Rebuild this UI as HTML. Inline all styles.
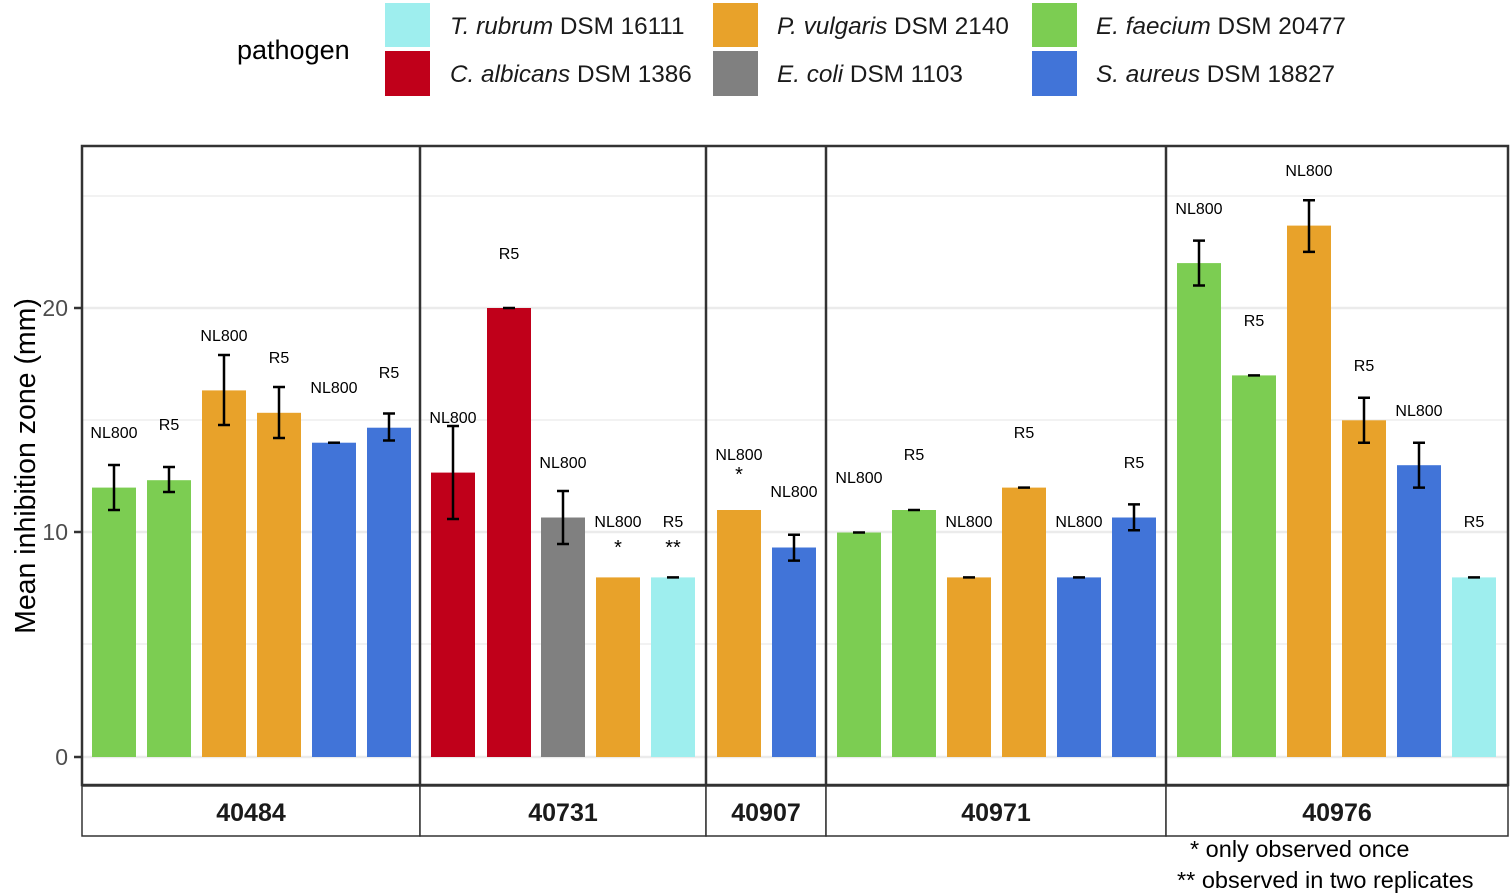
<!DOCTYPE html>
<html><head><meta charset="utf-8"><style>body{margin:0;background:#fff}svg{display:block}text{font-family:"Liberation Sans",Arial,sans-serif}</style></head><body>
<svg width="1510" height="895" viewBox="0 0 1510 895" xmlns="http://www.w3.org/2000/svg">
<text x="237" y="59" font-size="27" fill="#000">pathogen</text>
<rect x="385" y="3" width="45" height="44" fill="#9EEEEE"/><rect x="385" y="51" width="45" height="45" fill="#C0001A"/>
<rect x="713" y="3" width="45" height="44" fill="#E8A22A"/><rect x="713" y="51" width="45" height="45" fill="#808080"/>
<rect x="1032" y="3" width="45" height="44" fill="#7CCD52"/><rect x="1032" y="51" width="45" height="45" fill="#4174D8"/>
<g font-size="24.3" fill="#1a1a1a">
<text x="450" y="34"><tspan font-style="italic">T. rubrum</tspan> DSM 16111</text>
<text x="450" y="82"><tspan font-style="italic">C. albicans</tspan> DSM 1386</text>
<text x="777" y="34"><tspan font-style="italic">P. vulgaris</tspan> DSM 2140</text>
<text x="777" y="82"><tspan font-style="italic">E. coli</tspan> DSM 1103</text>
<text x="1096" y="34"><tspan font-style="italic">E. faecium</tspan> DSM 20477</text>
<text x="1096" y="82"><tspan font-style="italic">S. aureus</tspan> DSM 18827</text>
</g>
<text transform="translate(35,466) rotate(-90)" text-anchor="middle" font-size="28.5" fill="#000">Mean inhibition zone (mm)</text>
<g font-size="23" fill="#4d4d4d" text-anchor="end"><text x="68" y="765">0</text><text x="68" y="540">10</text><text x="68" y="316">20</text></g>
<g stroke="#333" stroke-width="2.5"><line x1="74" y1="757" x2="82" y2="757"/><line x1="74" y1="532" x2="82" y2="532"/><line x1="74" y1="308" x2="82" y2="308"/></g>
<g stroke="#ebebeb"><g stroke-width="1.2"><line x1="82" y1="644" x2="1508" y2="644"/><line x1="82" y1="420" x2="1508" y2="420"/><line x1="82" y1="196" x2="1508" y2="196"/></g>
<g stroke-width="2.4"><line x1="82" y1="757" x2="1508" y2="757"/><line x1="82" y1="532" x2="1508" y2="532"/><line x1="82" y1="308" x2="1508" y2="308"/></g></g>
<g>
<rect x="92" y="487.6" width="44" height="269.4" fill="#7CCD52"/><rect x="147" y="480.2" width="44" height="276.8" fill="#7CCD52"/>
<rect x="202" y="390.4" width="44" height="366.6" fill="#E8A22A"/><rect x="257" y="412.8" width="44" height="344.2" fill="#E8A22A"/>
<rect x="312" y="442.7" width="44" height="314.3" fill="#4174D8"/><rect x="367" y="427.7" width="44" height="329.3" fill="#4174D8"/>
<rect x="431" y="472.6" width="44" height="284.4" fill="#C0001A"/><rect x="487" y="308" width="44" height="449" fill="#C0001A"/>
<rect x="541" y="517.5" width="44" height="239.5" fill="#808080"/><rect x="596" y="577.4" width="44" height="179.6" fill="#E8A22A"/>
<rect x="651" y="577.4" width="44" height="179.6" fill="#9EEEEE"/>
<rect x="717" y="510" width="44" height="247" fill="#E8A22A"/><rect x="772" y="547.5" width="44" height="209.5" fill="#4174D8"/>
<rect x="837" y="532.5" width="44" height="224.5" fill="#7CCD52"/><rect x="892" y="510" width="44" height="247" fill="#7CCD52"/>
<rect x="947" y="577.4" width="44" height="179.6" fill="#E8A22A"/><rect x="1002" y="487.6" width="44" height="269.4" fill="#E8A22A"/>
<rect x="1057" y="577.4" width="44" height="179.6" fill="#4174D8"/><rect x="1112" y="517.5" width="44" height="239.5" fill="#4174D8"/>
<rect x="1177" y="263.1" width="44" height="493.9" fill="#7CCD52"/><rect x="1232" y="375.4" width="44" height="381.6" fill="#7CCD52"/>
<rect x="1287" y="225.6" width="44" height="531.4" fill="#E8A22A"/><rect x="1342" y="420.3" width="44" height="336.7" fill="#E8A22A"/>
<rect x="1397" y="465.2" width="44" height="291.8" fill="#4174D8"/><rect x="1452" y="577.4" width="44" height="179.6" fill="#9EEEEE"/>
</g>
<g stroke="#000" stroke-width="2.5" fill="none">
<path d="M108 465h12M114 465v45M108 510h12"/>
<path d="M163 467h12M169 467v25M163 492h12"/>
<path d="M218 355h12M224 355v70M218 425h12"/>
<path d="M273 387h12M279 387v51M273 438h12"/>
<path d="M328 442.7h12"/>
<path d="M383 413.5h12M389 413.5v27M383 440.5h12"/>
<path d="M447 426h12M453 426v93M447 519h12"/>
<path d="M503 308h12"/>
<path d="M557 491h12M563 491v53M557 544h12"/>
<path d="M667 577.4h12"/>
<path d="M788 534.7h12M794 534.7v26M788 560.6h12"/>
<path d="M853 532.5h12"/><path d="M908 510h12"/><path d="M963 577.4h12"/><path d="M1018 487.6h12"/><path d="M1073 577.4h12"/>
<path d="M1128 504.4h12M1134 504.4v26M1128 530.3h12"/>
<path d="M1193 240.6h12M1199 240.6v45M1193 285.5h12"/>
<path d="M1248 375.4h12"/>
<path d="M1303 200.2h12M1309 200.2v52M1303 251.9h12"/>
<path d="M1358 397.8h12M1364 397.8v45M1358 442.7h12"/>
<path d="M1413 442.7h12M1419 442.7v45M1413 487.6h12"/>
<path d="M1468 577.4h12"/>
</g>
<g font-size="16" fill="#000" text-anchor="middle">
<text x="114" y="438">NL800</text><text x="169" y="430">R5</text><text x="224" y="341">NL800</text><text x="279" y="363">R5</text><text x="334" y="393">NL800</text><text x="389" y="378">R5</text>
<text x="453" y="423">NL800</text><text x="509" y="259">R5</text><text x="563" y="468">NL800</text><text x="618" y="527">NL800</text><text x="673" y="527">R5</text>
<text x="739" y="460">NL800</text><text x="794" y="497">NL800</text>
<text x="859" y="483">NL800</text><text x="914" y="460">R5</text><text x="969" y="527">NL800</text><text x="1024" y="438">R5</text><text x="1079" y="527">NL800</text><text x="1134" y="468">R5</text>
<text x="1199" y="214">NL800</text><text x="1254" y="326">R5</text><text x="1309" y="176">NL800</text><text x="1364" y="371">R5</text><text x="1419" y="416">NL800</text><text x="1474" y="527">R5</text>
<text x="618" y="554" font-size="20">*</text><text x="673" y="554" font-size="20">**</text><text x="739" y="481" font-size="20">*</text>
</g>
<g fill="none" stroke="#333" stroke-width="2.5">
<rect x="82" y="146" width="1426" height="639"/>
<line x1="420" y1="146" x2="420" y2="785"/><line x1="706" y1="146" x2="706" y2="785"/><line x1="826" y1="146" x2="826" y2="785"/><line x1="1166" y1="146" x2="1166" y2="785"/>
</g>
<g fill="#fff" stroke="#333" stroke-width="1.5">
<rect x="82" y="786" width="338" height="50"/><rect x="420" y="786" width="286" height="50"/><rect x="706" y="786" width="120" height="50"/><rect x="826" y="786" width="340" height="50"/><rect x="1166" y="786" width="342" height="50"/>
</g>
<g font-size="25" font-weight="bold" fill="#1a1a1a" text-anchor="middle">
<text x="251" y="821">40484</text><text x="563" y="821">40731</text><text x="766" y="821">40907</text><text x="996" y="821">40971</text><text x="1337" y="821">40976</text>
</g>
<g font-size="23.5" fill="#000"><text x="1190" y="857">* only observed once</text><text x="1177" y="888">** observed in two replicates</text></g>
</svg>
</body></html>
